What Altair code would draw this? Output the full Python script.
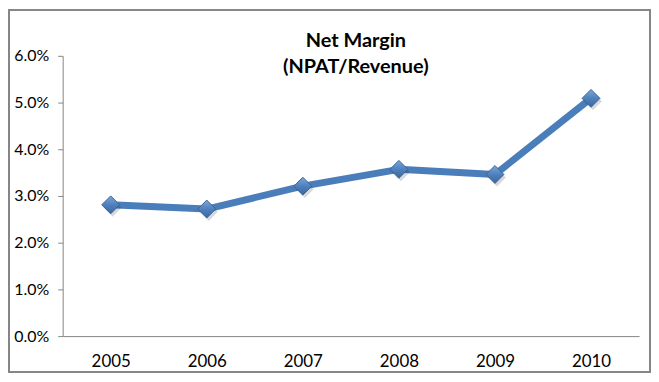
import altair as alt
import pandas as pd

years = ["2005", "2006", "2007", "2008", "2009", "2010"]
net_margin = [0.0281, 0.0272, 0.0321, 0.0357, 0.0346, 0.0509]
title_lines = ["Net Margin", "(NPAT/Revenue)"]

df = pd.DataFrame({"year": years, "margin": net_margin})

W, H = 580, 282
PL, PT, PR, PB = 55, 47, 12, 37
FONT = "Lato"

x = alt.X("year:N", scale=alt.Scale(type="point", padding=0.5),
          axis=alt.Axis(title=None, labelAngle=0, ticks=False, labelPadding=18,
                        labelFontSize=17, labelFont=FONT, labelColor="#000000",
                        domainColor="#868686", domainWidth=1))
y = alt.Y("margin:Q", scale=alt.Scale(domain=[0, 0.06], nice=False),
          axis=alt.Axis(title=None, format=".1%", values=[0, 0.01, 0.02, 0.03, 0.04, 0.05, 0.06],
                        grid=False, tickSize=5, tickColor="#868686", labelPadding=9,
                        labelFontSize=16, labelFont=FONT, labelColor="#000000",
                        domainColor="#868686", domainWidth=1))

base = alt.Chart(df).encode(x=x, y=y)

line = base.mark_line(color="#4A7EBB", strokeWidth=7, strokeJoin="round")

shadow = base.mark_point(shape="diamond", size=324, filled=True, color="#000000",
                         opacity=0.15, xOffset=2, yOffset=3, strokeWidth=0)

points = base.mark_point(
    shape="diamond", size=324, filled=True, opacity=1,
    fill=alt.LinearGradient(gradient="linear", x1=0, y1=0, x2=0, y2=1,
                            stops=[alt.GradientStop(color="#7AA6DE", offset=0),
                                   alt.GradientStop(color="#4F81BD", offset=0.5),
                                   alt.GradientStop(color="#3A67A0", offset=1)]),
    stroke="#3C6494", strokeWidth=1)

frame = alt.Chart(df).mark_rect(fill=None, stroke="#868686", strokeWidth=1.5).encode(
    x=alt.value(-PL + 1), x2=alt.value(W + PR - 1),
    y=alt.value(-PT + 1), y2=alt.value(H + PB - 1))

title = alt.Chart(pd.DataFrame({"t": [0]})).mark_text(
    font=FONT, fontSize=20, fontWeight="bold", color="#000000",
    align="center", baseline="alphabetic", lineHeight=26).encode(
    x=alt.value(295), y=alt.value(-9), text=alt.value(title_lines))

chart = alt.layer(frame, line, shadow, points, title).properties(
    width=W, height=H,
    autosize=alt.AutoSizeParams(type="none"),
    padding={"left": PL, "top": PT, "right": PR, "bottom": PB},
).configure(background="white").configure_view(strokeWidth=0)

chart.save("out.html", embed_options={"renderer": "svg", "actions": False})
